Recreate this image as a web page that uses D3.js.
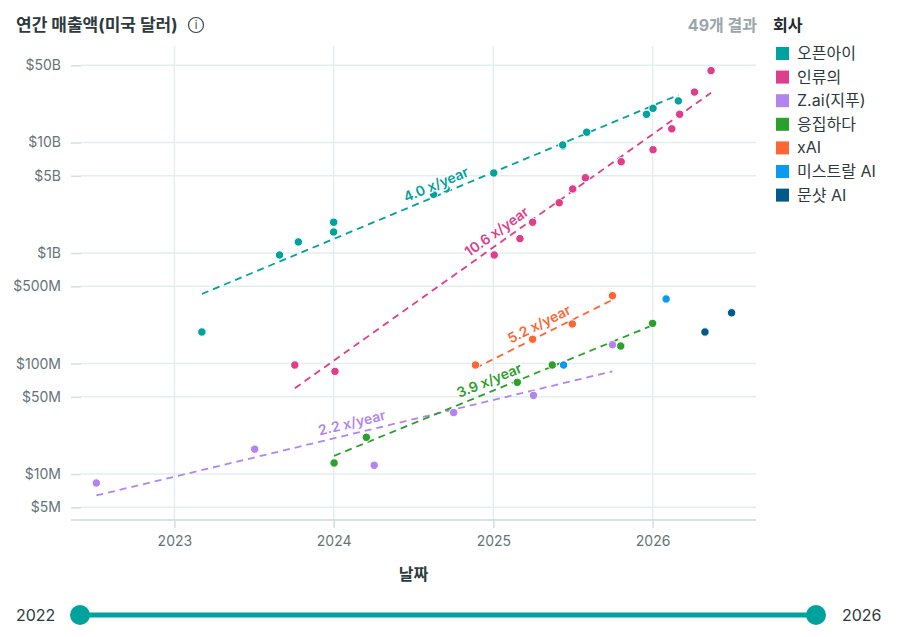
<!DOCTYPE html>
<html>
<head>
<meta charset="utf-8">
<script src="https://cdn.jsdelivr.net/npm/d3@7"></script>
<style>
  body { margin: 0; background: #fff; font-family: Inter, "Noto Sans CJK KR", sans-serif; }
  svg text { font-family: Inter, "Noto Sans CJK KR", sans-serif; }
</style>
</head>
<body>
<div id="chart"></div>
<script>
// companies + colours (legend order)
const companies = ["오픈아이", "인류의", "Z.ai(지푸)", "응집하다", "xAI", "미스트랄 AI", "문샷 AI"];
const colors = ["#00a29e", "#e03d8c", "#b284f0", "#2ca02c", "#ff6633", "#0a9bf0", "#005a8c"];

// revenue points
const openaiDates = ["2023-03-05","2023-08-30","2023-10-12","2024-01-01","2024-01-01","2024-08-17","2024-09-15","2025-01-02","2025-06-09","2025-06-09","2025-08-03","2025-12-18","2026-01-02","2026-03-01"];
const openaiRevenue = [1.93e8, 9.6e8, 1.26e9, 1.55e9, 1.9e9, 3.4e9, 3.8e9, 5.3e9, 9.3e9, 9.5e9, 12.4e9, 18e9, 20.4e9, 23.8e9];
const anthropicDates = ["2023-10-04","2024-01-04","2025-01-03","2025-03-03","2025-04-01","2025-06-01","2025-07-02","2025-07-31","2025-10-21","2026-01-02","2026-02-14","2026-03-04","2026-04-07","2026-05-15"];
const anthropicRevenue = [9.7e7, 8.5e7, 9.6e8, 1.35e9, 1.9e9, 2.85e9, 3.8e9, 4.8e9, 6.7e9, 8.6e9, 13.3e9, 18e9, 28.6e9, 44.7e9];
const zaiDates = ["2022-07-06","2023-07-04","2024-04-03","2024-10-02","2025-04-03","2025-10-01"];
const zaiRevenue = [8.3e6, 1.68e7, 1.2e7, 3.6e7, 5.15e7, 1.48e8];
const cohereDates = ["2024-01-02","2024-03-16","2025-02-25","2025-05-16","2025-10-20","2026-01-01"];
const cohereRevenue = [1.26e7, 2.15e7, 6.76e7, 9.7e7, 1.44e8, 2.31e8];
const xaiDates = ["2024-11-21","2025-04-01","2025-07-01","2025-10-01"];
const xaiRevenue = [9.7e7, 1.66e8, 2.28e8, 4.11e8];
const mistralDates = ["2025-06-11","2026-02-01"];
const mistralRevenue = [9.7e7, 3.84e8];
const moonshotDates = ["2026-05-01","2026-07-01"];
const moonshotRevenue = [1.93e8, 2.88e8];

const pointDates = [openaiDates, anthropicDates, zaiDates, cohereDates, xaiDates, mistralDates, moonshotDates];
const pointRevenue = [openaiRevenue, anthropicRevenue, zaiRevenue, cohereRevenue, xaiRevenue, mistralRevenue, moonshotRevenue];

// fitted trend lines (index into companies)
const trendCompany = [0, 1, 2, 3, 4];
const trendStartDate = ["2023-03-05", "2023-10-04", "2022-07-06", "2024-01-02", "2024-11-21"];
const trendEndDate = ["2026-03-01", "2026-05-15", "2025-10-01", "2026-01-01", "2025-10-01"];
const trendStartValue = [4.26e8, 5.97e7, 6.4e6, 1.46e7, 9.1e7];
const trendEndValue = [2.69e10, 2.82e10, 8.5e7, 2.22e8, 3.77e8];
const trendLabels = ["4.0 x/year", "10.6 x/year", "2.2 x/year", "3.9 x/year", "5.2 x/year"];

// axis ticks
const yTickValues = [5e6, 1e7, 5e7, 1e8, 5e8, 1e9, 5e9, 1e10, 5e10];
const yTickLabels = ["$5M", "$10M", "$50M", "$100M", "$500M", "$1B", "$5B", "$10B", "$50B"];
const xTickYears = [2023, 2024, 2025, 2026];
const sliderYears = [2022, 2026];

var width = 902;
var height = 637;
var plot = {left: 71, right: 756, top: 46, bottom: 520};

const parse = d3.timeParse("%Y-%m-%d");

const x = d3.scaleTime()
    .domain([parse("2022-05-09"), parse("2026-08-26")])
    .range([plot.left, plot.right]);
const y = d3.scaleLog()
    .domain([3.84e6, 7.47e10])
    .range([plot.bottom, plot.top]);

const svg = d3.select("#chart")
    .append("svg")
    .attr("width", width)
    .attr("height", height);

// title + info icon
svg.append("text")
    .attr("x", 16).attr("y", 31)
    .attr("font-size", 17).attr("font-weight", 700).attr("fill", "#2d3a3e")
    .text("연간 매출액(미국 달러)");
const info = svg.append("g").attr("transform", "translate(196,25)");
info.append("circle").attr("r", 7.5).attr("fill", "none").attr("stroke", "#3a4649").attr("stroke-width", 1.2);
info.append("text").attr("y", 4).attr("text-anchor", "middle")
    .attr("font-size", 11).attr("font-family", "DejaVu Serif").attr("fill", "#3a4649").text("i");

svg.append("text")
    .attr("x", 757).attr("y", 31).attr("text-anchor", "end")
    .attr("font-size", 16).attr("font-weight", 700).attr("fill", "#9aa6aa")
    .text("49개 결과");

// gridlines
const yDates = xTickYears.map(d => new Date(d, 0, 1));
svg.append("g").selectAll("line")
    .data(yTickValues).join("line")
    .attr("x1", plot.left + 10).attr("x2", plot.right)
    .attr("y1", d => y(d)).attr("y2", d => y(d))
    .attr("stroke", "#e3eeef").attr("stroke-width", 1.5);
svg.append("g").selectAll("line")
    .data(yDates).join("line")
    .attr("x1", d => x(d)).attr("x2", d => x(d))
    .attr("y1", plot.top).attr("y2", plot.bottom)
    .attr("stroke", "#e3eeef").attr("stroke-width", 1.5);

// y axis
const yAxis = svg.append("g")
    .attr("transform", "translate(" + (plot.left + 10) + ",0)")
    .call(d3.axisLeft(y).tickValues(yTickValues).tickSize(10).tickPadding(10)
        .tickFormat((d, i) => yTickLabels[i]));
yAxis.select(".domain").remove();
yAxis.selectAll(".tick line").attr("stroke", "#d3dfe1").attr("stroke-width", 1.5);
yAxis.selectAll(".tick text").attr("font-size", 14).attr("fill", "#647579");

// x axis
const xAxis = svg.append("g")
    .attr("transform", "translate(0," + plot.bottom + ")")
    .call(d3.axisBottom(x).tickValues(yDates).tickSize(8).tickPadding(8)
        .tickFormat(d3.timeFormat("%Y")));
xAxis.select(".domain").attr("d", "M" + plot.left + ",0H" + plot.right)
    .attr("stroke", "#b7c4c8").attr("stroke-width", 1.2);
xAxis.selectAll(".tick line").attr("stroke", "#d3dfe1").attr("stroke-width", 1.5);
xAxis.selectAll(".tick text").attr("font-size", 14).attr("fill", "#647579");

svg.append("text")
    .attr("x", (plot.left + plot.right) / 2).attr("y", 580)
    .attr("text-anchor", "middle")
    .attr("font-size", 16).attr("font-weight", 700).attr("fill", "#2d3a3e")
    .text("날짜");

// trend lines
const trends = trendCompany.map((c, i) => ({
    color: colors[c],
    label: trendLabels[i],
    p0: [x(parse(trendStartDate[i])), y(trendStartValue[i])],
    p1: [x(parse(trendEndDate[i])), y(trendEndValue[i])]
}));

svg.append("g").selectAll("line")
    .data(trends).join("line")
    .attr("x1", d => d.p0[0]).attr("y1", d => d.p0[1])
    .attr("x2", d => d.p1[0]).attr("y2", d => d.p1[1])
    .attr("stroke", d => d.color)
    .attr("stroke-width", 1.8)
    .attr("stroke-dasharray", "7,5");

// points
const points = [];
pointDates.forEach((dates, c) => {
    dates.forEach((d, i) => points.push({c: c, date: parse(d), value: pointRevenue[c][i]}));
});
svg.append("g").selectAll("circle")
    .data(points).join("circle")
    .attr("cx", d => x(d.date))
    .attr("cy", d => y(d.value))
    .attr("r", 4.2)
    .attr("fill", d => colors[d.c])
    .attr("stroke", "#fff")
    .attr("stroke-width", 1);

// trend labels at the line midpoint, rotated along it
svg.append("g").selectAll("text")
    .data(trends).join("text")
    .attr("transform", d => {
        const mx = (d.p0[0] + d.p1[0]) / 2, my = (d.p0[1] + d.p1[1]) / 2;
        const ang = Math.atan2(d.p1[1] - d.p0[1], d.p1[0] - d.p0[0]) * 180 / Math.PI;
        return "translate(" + mx + "," + my + ") rotate(" + ang + ")";
    })
    .attr("y", -6)
    .attr("text-anchor", "middle")
    .attr("font-size", 14).attr("font-weight", 600)
    .attr("fill", d => d.color)
    .attr("stroke", "#fff").attr("stroke-width", 3).attr("paint-order", "stroke")
    .text(d => d.label);

// legend
svg.append("text")
    .attr("x", 773).attr("y", 31)
    .attr("font-size", 16).attr("font-weight", 700).attr("fill", "#1f2a2d")
    .text("회사");
const legend = svg.append("g").selectAll("g")
    .data(companies).join("g")
    .attr("transform", (d, i) => "translate(776," + (47 + i * 23.6) + ")");
legend.append("rect")
    .attr("width", 13).attr("height", 13)
    .attr("fill", (d, i) => colors[i]);
legend.append("text")
    .attr("x", 21).attr("y", 12)
    .attr("font-size", 16).attr("fill", "#2d3a3e")
    .text(d => d);

// year range slider
const slider = d3.scaleLinear().domain(sliderYears).range([80, 816]);
svg.append("line")
    .attr("x1", slider(sliderYears[0])).attr("x2", slider(sliderYears[1]))
    .attr("y1", 615).attr("y2", 615)
    .attr("stroke", "#00a29e").attr("stroke-width", 5);
svg.append("g").selectAll("circle")
    .data(sliderYears).join("circle")
    .attr("cx", d => slider(d)).attr("cy", 615).attr("r", 10)
    .attr("fill", "#00a29e");
svg.append("text").attr("x", 16).attr("y", 621)
    .attr("font-size", 16).attr("fill", "#2d3a3e").text(sliderYears[0]);
svg.append("text").attr("x", 842).attr("y", 621)
    .attr("font-size", 16).attr("fill", "#2d3a3e").text(sliderYears[1]);
</script>
</body>
</html>
